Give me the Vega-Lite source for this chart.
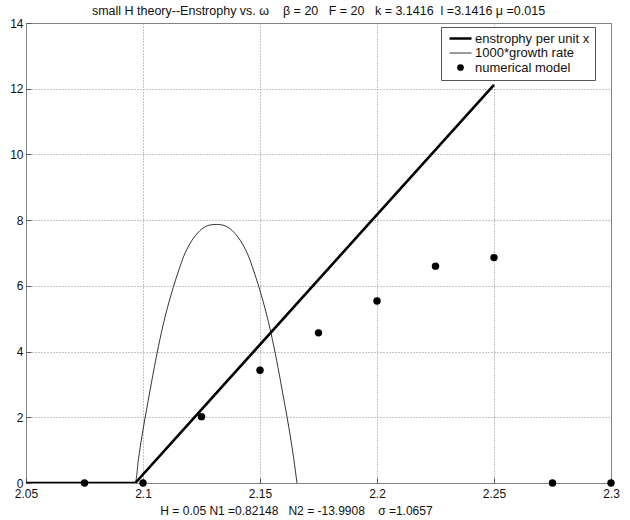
{
  "$schema": "https://vega.github.io/schema/vega-lite/v6.json",
  "width": 585,
  "height": 460,
  "autosize": {"type": "none"},
  "padding": {"left": 26, "top": 23, "right": 19, "bottom": 37},
  "background": "white",
  "title": {
    "text": "small H theory--Enstrophy vs. ω\u00a0\u00a0\u00a0\u00a0β = 20\u00a0\u00a0\u00a0F = 20\u00a0\u00a0\u00a0k = 3.1416\u00a0\u00a0l =3.1416 μ =0.015",
    "anchor": "middle",
    "font": "Liberation Sans",
    "fontSize": 12.5,
    "fontWeight": "normal",
    "color": "#111",
    "offset": 0
  },
  "config": {
    "view": {"stroke": "#7f7f7f", "strokeWidth": 1},
    "axis": {
      "labelFont": "Liberation Sans",
      "labelFontSize": 12,
      "labelColor": "#111",
      "titleFont": "Liberation Sans",
      "titleFontSize": 12,
      "titleFontWeight": "normal",
      "titleColor": "#111",
      "domain": false,
      "grid": true,
      "gridColor": "#8a8a8a",
      "gridDash": [1, 2],
      "gridWidth": 1,
      "ticks": true,
      "tickSize": -5,
      "tickColor": "#555",
      "labelOverlap": false,
      "labelFlush": false
    }
  },
  "datasets": {
    "enstrophy": [
      {"series": "enstrophy per unit x", "omega": 2.05, "value": 0},
      {"series": "enstrophy per unit x", "omega": 2.0967, "value": 0},
      {"series": "enstrophy per unit x", "omega": 2.25, "value": 12.12}
    ],
    "growth": [
      {"series": "1000*growth rate", "omega": 2.05, "value": 0},
      {"series": "1000*growth rate", "omega": 2.0967, "value": 0},
      {"series": "1000*growth rate", "omega": 2.0981, "value": 0.75},
      {"series": "1000*growth rate", "omega": 2.0995, "value": 1.4},
      {"series": "1000*growth rate", "omega": 2.1008, "value": 1.95},
      {"series": "1000*growth rate", "omega": 2.1022, "value": 2.5},
      {"series": "1000*growth rate", "omega": 2.1036, "value": 3.05},
      {"series": "1000*growth rate", "omega": 2.106, "value": 3.95},
      {"series": "1000*growth rate", "omega": 2.1084, "value": 4.75},
      {"series": "1000*growth rate", "omega": 2.1105, "value": 5.35},
      {"series": "1000*growth rate", "omega": 2.1129, "value": 5.95},
      {"series": "1000*growth rate", "omega": 2.1154, "value": 6.5},
      {"series": "1000*growth rate", "omega": 2.1174, "value": 6.9},
      {"series": "1000*growth rate", "omega": 2.1202, "value": 7.3},
      {"series": "1000*growth rate", "omega": 2.123, "value": 7.58},
      {"series": "1000*growth rate", "omega": 2.1257, "value": 7.76},
      {"series": "1000*growth rate", "omega": 2.1285, "value": 7.85},
      {"series": "1000*growth rate", "omega": 2.1313, "value": 7.87},
      {"series": "1000*growth rate", "omega": 2.134, "value": 7.85},
      {"series": "1000*growth rate", "omega": 2.1368, "value": 7.76},
      {"series": "1000*growth rate", "omega": 2.1395, "value": 7.58},
      {"series": "1000*growth rate", "omega": 2.1423, "value": 7.3},
      {"series": "1000*growth rate", "omega": 2.1451, "value": 6.9},
      {"series": "1000*growth rate", "omega": 2.1471, "value": 6.5},
      {"series": "1000*growth rate", "omega": 2.1496, "value": 5.95},
      {"series": "1000*growth rate", "omega": 2.152, "value": 5.35},
      {"series": "1000*growth rate", "omega": 2.1541, "value": 4.75},
      {"series": "1000*growth rate", "omega": 2.1565, "value": 3.95},
      {"series": "1000*growth rate", "omega": 2.1589, "value": 3.05},
      {"series": "1000*growth rate", "omega": 2.1603, "value": 2.5},
      {"series": "1000*growth rate", "omega": 2.1617, "value": 1.95},
      {"series": "1000*growth rate", "omega": 2.163, "value": 1.4},
      {"series": "1000*growth rate", "omega": 2.1644, "value": 0.75},
      {"series": "1000*growth rate", "omega": 2.1658, "value": 0}
    ],
    "model": [
      {"series": "numerical model", "omega": 2.075, "value": 0},
      {"series": "numerical model", "omega": 2.1, "value": 0},
      {"series": "numerical model", "omega": 2.125, "value": 2.02},
      {"series": "numerical model", "omega": 2.15, "value": 3.43},
      {"series": "numerical model", "omega": 2.175, "value": 4.57},
      {"series": "numerical model", "omega": 2.2, "value": 5.54},
      {"series": "numerical model", "omega": 2.225, "value": 6.6},
      {"series": "numerical model", "omega": 2.25, "value": 6.86},
      {"series": "numerical model", "omega": 2.275, "value": 0},
      {"series": "numerical model", "omega": 2.3, "value": 0}
    ]
  },
  "encoding": {
    "x": {
      "field": "omega",
      "type": "quantitative",
      "scale": {"domain": [2.05, 2.3], "nice": false, "zero": false},
      "axis": {
        "values": [2.05, 2.1, 2.15, 2.2, 2.25, 2.3],
        "format": "~g",
        "labelPadding": 10,
        "title": "H = 0.05 N1 =0.82148\u00a0\u00a0\u00a0N2 = -13.9908\u00a0\u00a0\u00a0\u00a0σ =1.0657",
        "titleX": 270,
        "titleY": 22,
        "titleAnchor": null,
        "titleAlign": "center",
        "titleBaseline": "top"
      }
    },
    "y": {
      "field": "value",
      "type": "quantitative",
      "scale": {"domain": [0, 14], "nice": false},
      "axis": {
        "values": [0, 2, 4, 6, 8, 10, 12, 14],
        "format": "d",
        "labelPadding": 8,
        "title": null
      }
    },
    "color": {
      "field": "series",
      "type": "nominal",
      "scale": {
        "domain": ["enstrophy per unit x", "1000*growth rate", "numerical model"],
        "range": ["black", "black", "black"]
      },
      "legend": {
        "title": null,
        "orient": "none",
        "legendX": 415,
        "legendY": 4,
        "direction": "vertical",
        "fillColor": "white",
        "strokeColor": "#555",
        "padding": 5,
        "labelFont": "Liberation Sans",
        "labelFontSize": 13,
        "labelColor": "#111",
        "labelExpr": "datum.label === '1000*growth rate' ? '\u00a01000*growth rate' : datum.label",
        "symbolSize": 484,
        "symbolOffset": 8,
        "rowPadding": 0.5,
        "labelOffset": 8,
        "encode": {
          "symbols": {
            "update": {
              "shape": {"signal": "datum.value === 'numerical model' ? 'circle' : 'stroke'"},
              "size": {"signal": "datum.value === 'numerical model' ? 45 : 484"},
              "stroke": {"value": "black"},
              "fill": {"signal": "datum.value === 'numerical model' ? 'black' : 'transparent'"},
              "strokeWidth": {"signal": "datum.value === 'enstrophy per unit x' ? 2.5 : datum.value === '1000*growth rate' ? 0.8 : 0"},
              "opacity": {"value": 1}
            }
          }
        }
      }
    }
  },
  "layer": [
    {
      "data": {"name": "growth"},
      "mark": {"type": "line", "clip": true, "strokeWidth": 0.8, "interpolate": "monotone"}
    },
    {
      "data": {"name": "enstrophy"},
      "mark": {"type": "line", "clip": true, "strokeWidth": 2.6}
    },
    {
      "data": {"name": "model"},
      "mark": {"type": "point", "filled": true, "size": 55, "opacity": 1, "clip": false}
    }
  ]
}
